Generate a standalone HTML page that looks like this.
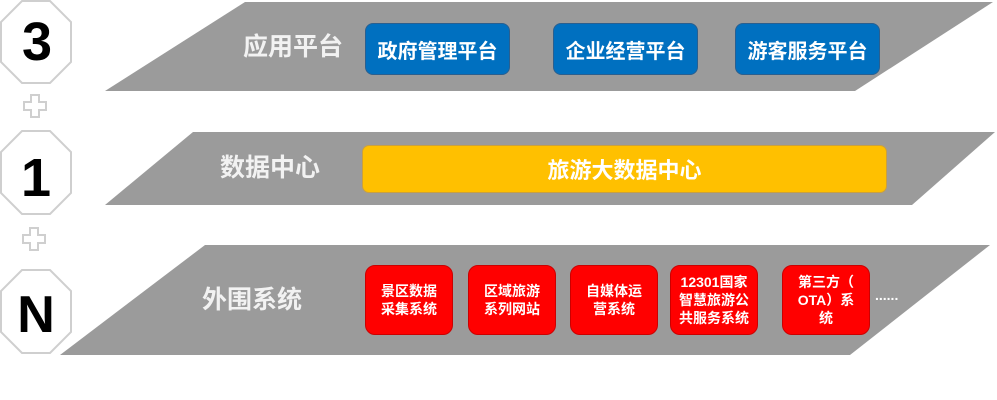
<!DOCTYPE html>
<html><head><meta charset="utf-8"><style>
body{margin:0;width:997px;height:400px;background:#fff;position:relative;overflow:hidden;font-family:"Liberation Sans","Noto Sans CJK SC",sans-serif}
.a{position:absolute;box-sizing:border-box;display:flex;align-items:center;justify-content:center;text-align:center;color:#fff;font-weight:bold}
.lbl{position:absolute;color:#f2f2f2;font-weight:bold;font-size:25px;line-height:26px}
.b{background:#0070c0;border-radius:8px;font-size:20px;border:1px solid #2a5f8f;height:52px;top:23px}
.r{background:#ff0000;border-radius:10px;font-size:14px;line-height:18px;width:88px;height:70px;top:265px;border:1px solid #c00}
</style></head><body>
<svg width="997" height="400" style="position:absolute;left:0;top:0">
<polygon points="245,2 993,2 855,91 105,91" fill="#9b9b9b"/>
<polygon points="193,132 995,132 912,205 105,205" fill="#9b9b9b"/>
<polygon points="205,245 990,245 850,355 60,355" fill="#9b9b9b"/>
<g fill="#fff" stroke="#cfcfcf" stroke-width="2">
<polygon points="22,1 50,1 71,22 71,62 50,83 22,83 1,62 1,22"/>
<polygon points="22,131 50,131 71,152 71,193 50,214 22,214 1,193 1,152"/>
<polygon points="22,270 50,270 71,291 71,332 50,353 22,353 1,332 1,291"/>
<path d="M31,95h8v7h7v8h-7v7h-8v-7h-7v-8h7z"/>
<path d="M30,228h8v7h7v8h-7v7h-8v-7h-7v-8h7z"/>
</g>
<g font-family="Liberation Sans,sans-serif" font-weight="bold" text-anchor="middle" fill="#000">
<text x="37" y="60" font-size="54">3</text>
<text x="36" y="196" font-size="54">1</text>
<text x="36" y="332" font-size="52">N</text>
</g>
</svg>
<div class="lbl" style="left:243px;top:34px">应用平台</div>
<div class="lbl" style="left:220px;top:155px">数据中心</div>
<div class="lbl" style="left:202px;top:287px">外围系统</div>
<div class="a b" style="left:365px;width:145px">政府管理平台</div>
<div class="a b" style="left:553px;width:145px">企业经营平台</div>
<div class="a b" style="left:735px;width:145px">游客服务平台</div>
<div class="a" style="left:362px;top:145px;width:525px;height:48px;background:#ffc000;border:1px solid #c9a040;border-radius:7px;font-size:22px">旅游大数据中心</div>
<div class="a r" style="left:365px">景区数据<br>采集系统</div>
<div class="a r" style="left:468px">区域旅游<br>系列网站</div>
<div class="a r" style="left:570px">自媒体运<br>营系统</div>
<div class="a r" style="left:670px">12301国家<br>智慧旅游公<br>共服务系统</div>
<div class="a r" style="left:782px">第三方（<br>OTA）系<br>统</div>
<div class="lbl" style="left:875px;top:282px;color:#fff;font-size:14px">......</div>
</body></html>
